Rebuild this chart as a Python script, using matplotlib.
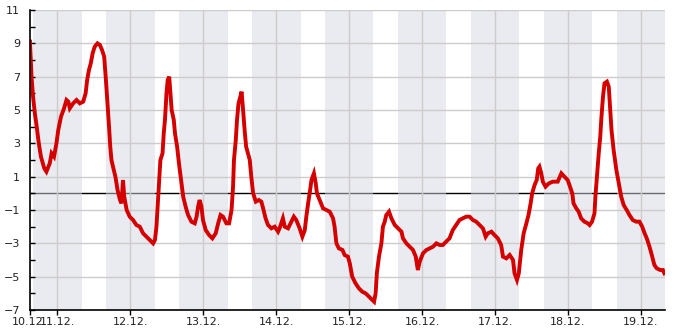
import matplotlib
matplotlib.use("Agg")
import matplotlib.pyplot as plt
from matplotlib.ticker import MultipleLocator, FixedLocator

# time in hours since 10.12. 00:00, temperature in °C
hours = [15.0, 15.3, 15.5, 16.0, 16.6, 17.2, 17.9, 18.6, 19.7, 20.4, 21.5, 22.1, 22.9, 23.7,
         24.3, 25.2, 26.2, 27.0, 27.6, 28.1, 29.2, 30.3, 31.4, 32.5, 33.3, 33.8, 34.4, 35.0,
         35.6, 36.3, 37.2, 38.0, 38.7, 39.4, 39.9, 40.5, 41.0, 41.4, 41.8, 42.3, 43.1, 43.8,
         44.6, 45.1, 45.6, 46.0, 46.8, 47.8, 48.9, 50.0, 51.1, 52.2, 53.3, 54.4, 55.5, 56.1,
         56.6, 57.1, 57.5, 57.9, 58.6, 59.0, 59.4, 59.9, 60.3, 60.8, 61.2, 61.6, 62.3, 62.7,
         63.4, 64.0, 64.7, 65.4, 66.2, 67.0, 68.1, 69.2, 69.8, 70.3, 70.8, 71.4, 71.9, 72.8,
         73.9, 75.0, 76.1, 76.9, 77.7, 78.5, 79.6, 80.5, 81.3, 81.8, 82.1, 82.7, 83.1, 83.6,
         84.2, 84.6, 85.1, 85.6, 86.1, 87.3, 87.8, 88.4, 89.3, 90.3, 91.1, 91.7, 92.5, 93.3,
         94.4, 95.5, 96.6, 97.1, 98.2, 98.8, 99.9, 101.0, 101.8, 102.6, 103.7, 104.6, 105.4,
         105.9, 106.5, 107.0, 107.6, 108.4, 109.0, 109.4, 110.3, 111.4, 112.5, 113.6, 114.7,
         115.2, 115.8, 116.6, 117.8, 118.5, 119.6, 120.2, 121.0, 122.1, 123.2, 124.3, 125.4,
         126.5, 127.6, 128.2, 128.7, 129.1, 129.8, 130.6, 131.1, 131.7, 132.2, 133.1, 133.9,
         135.0, 136.1, 137.2, 137.7, 138.8, 139.9, 141.0, 141.9, 142.6, 143.2, 144.3, 145.4,
         146.5, 147.6, 148.7, 149.8, 150.8, 151.9, 153.0, 154.1, 155.2, 156.3, 157.4, 158.5,
         159.6, 160.7, 161.8, 162.9, 164.0, 164.9, 165.6, 166.8, 167.8, 168.9, 170.0, 170.6,
         171.7, 172.8, 173.9, 174.4, 175.2, 175.8, 176.6, 177.4, 178.3, 179.0, 179.7, 180.2,
         181.0, 181.7, 182.2, 182.6, 183.2, 183.7, 184.6, 185.7, 187.0, 188.6, 189.8, 190.8,
         191.9, 193.4, 193.8, 194.7, 195.5, 196.3, 197.4, 198.5, 199.1, 199.9, 200.7, 201.0,
         201.5, 202.1, 202.6, 203.0, 203.5, 204.0, 204.8, 205.4, 205.9, 206.3, 207.0, 207.9,
         208.7, 209.5, 210.3, 211.3, 212.2, 213.3, 214.4, 215.5, 216.4, 217.2, 217.9, 218.8,
         219.7, 220.4, 221.2, 222.3, 223.2, 223.7]
temps = [9.1, 7.8, 7.0, 5.8, 4.8, 4.0, 3.0, 2.2, 1.5, 1.3, 1.8, 2.4, 2.2, 3.0,
         3.8, 4.6, 5.1, 5.6, 5.5, 5.1, 5.4, 5.6, 5.4, 5.5, 6.0, 6.8, 7.4, 7.8,
         8.4, 8.8, 9.0, 8.9, 8.6, 8.2, 7.0, 5.4, 4.0, 2.8, 2.0, 1.6, 1.0, 0.2,
         -0.4, -0.6, 0.8, -0.2, -1.0, -1.4, -1.6, -1.9, -2.0, -2.4, -2.6, -2.8, -3.0, -2.8,
         -2.0, -0.4, 0.8, 2.0, 2.4, 3.6, 4.4, 6.0, 6.8, 7.0, 6.0, 5.0, 4.4, 3.6,
         2.8, 1.8, 0.8, -0.2, -0.8, -1.3, -1.7, -1.8, -1.4, -0.8, -0.4, -0.8, -1.6, -2.2,
         -2.5, -2.7, -2.4, -1.8, -1.3, -1.4, -1.8, -1.8, -1.0, 0.4, 2.0, 3.2, 4.4, 5.4,
         5.8, 6.1, 5.0, 3.8, 2.8, 2.0, 1.0, 0.0, -0.5, -0.4, -0.5, -0.9, -1.5, -1.9,
         -2.1, -2.0, -2.3, -2.1, -1.5, -2.0, -2.1, -1.7, -1.4, -1.6, -2.1, -2.6, -2.2,
         -1.4, -0.6, 0.0, 0.8, 1.2, 0.6, 0.0, -0.4, -0.9, -1.0, -1.1, -1.5,
         -2.0, -3.0, -3.3, -3.4, -3.7, -3.8, -4.2, -5.0, -5.4, -5.7, -5.9, -6.0,
         -6.2, -6.4, -6.5, -6.0, -4.8, -3.8, -3.0, -2.0, -1.7, -1.3, -1.1, -1.5,
         -1.9, -2.1, -2.3, -2.7, -3.0, -3.2, -3.4, -3.8, -4.6, -4.1, -3.6, -3.4,
         -3.3, -3.2, -3.0, -3.1, -3.1, -2.9, -2.7, -2.2, -1.9, -1.6, -1.5, -1.4,
         -1.4, -1.6, -1.7, -1.9, -2.1, -2.6, -2.4, -2.3, -2.5, -2.7, -3.1, -3.8,
         -3.9, -3.7, -4.0, -4.8, -5.2, -4.8, -3.4, -2.4, -1.8, -1.3, -0.6, 0.0,
         0.5, 0.8, 1.5, 1.6, 1.2, 0.7, 0.4, 0.6, 0.7, 0.7, 1.2, 1.0,
         0.8, 0.0, -0.6, -0.9, -1.1, -1.5, -1.7, -1.8, -1.9, -1.7, -1.2, -0.2,
         1.0, 2.4, 3.4, 4.6, 5.8, 6.6, 6.7, 6.4, 5.0, 3.8, 2.6, 1.4,
         0.6, -0.2, -0.7, -1.0, -1.3, -1.6, -1.7, -1.7, -2.0, -2.4, -2.7, -3.2,
         -3.8, -4.3, -4.5, -4.6, -4.6, -4.8]

x_tick_hours = [15, 24, 48, 72, 96, 120, 144, 168, 192, 216]
x_tick_labels = ["10.12.", "11.12.", "12.12.", "13.12.", "14.12.", "15.12.",
                 "16.12.", "17.12.", "18.12.", "19.12."]
y_ticks = [-7, -5, -3, -1, 1, 3, 5, 7, 9, 11]
night_start_hours = [16, 40, 64, 88, 112, 136, 160, 184, 208]
night_length = 16

fig = plt.figure(figsize=(6.85, 3.30), dpi=100)
ax = fig.add_axes([30 / 685, 20 / 330, 635 / 685, 300 / 330])

x_min, x_max = 15, 223.9
ax.set_xlim(x_min, x_max)
ax.set_ylim(-7, 11)

for s in night_start_hours:
    ax.axvspan(s, min(s + night_length, x_max), color="#d6d8e2", alpha=0.5,
               lw=0, zorder=1)

ax.axhline(0, color="black", lw=1.0, zorder=0.8)

for y in y_ticks:
    ax.axhline(y, color="#cccccc", lw=1.0, zorder=1.5)
for x in x_tick_hours[1:]:
    ax.axvline(x, color="#cccccc", lw=1.0, zorder=1.5)

ax.plot(hours, temps, color="#d40000", lw=2.8, zorder=3, solid_joinstyle="miter")

ax.set_xticks(x_tick_hours)
ax.set_xticklabels(x_tick_labels)
ax.yaxis.set_major_locator(FixedLocator(y_ticks))
ax.yaxis.set_minor_locator(MultipleLocator(1))
ax.tick_params(axis="y", which="both", direction="in", length=3.5, width=1,
               labelsize=8, pad=7, colors="black", labelcolor="#222222")
ax.tick_params(axis="x", direction="out", length=3.5, width=1, labelsize=8,
               pad=1.5, labelcolor="#222222")

for side in ("top", "right"):
    ax.spines[side].set_visible(False)
for side in ("left", "bottom"):
    ax.spines[side].set_linewidth(1.2)
    ax.spines[side].set_zorder(4)

fig.savefig("out.png", dpi=100)
